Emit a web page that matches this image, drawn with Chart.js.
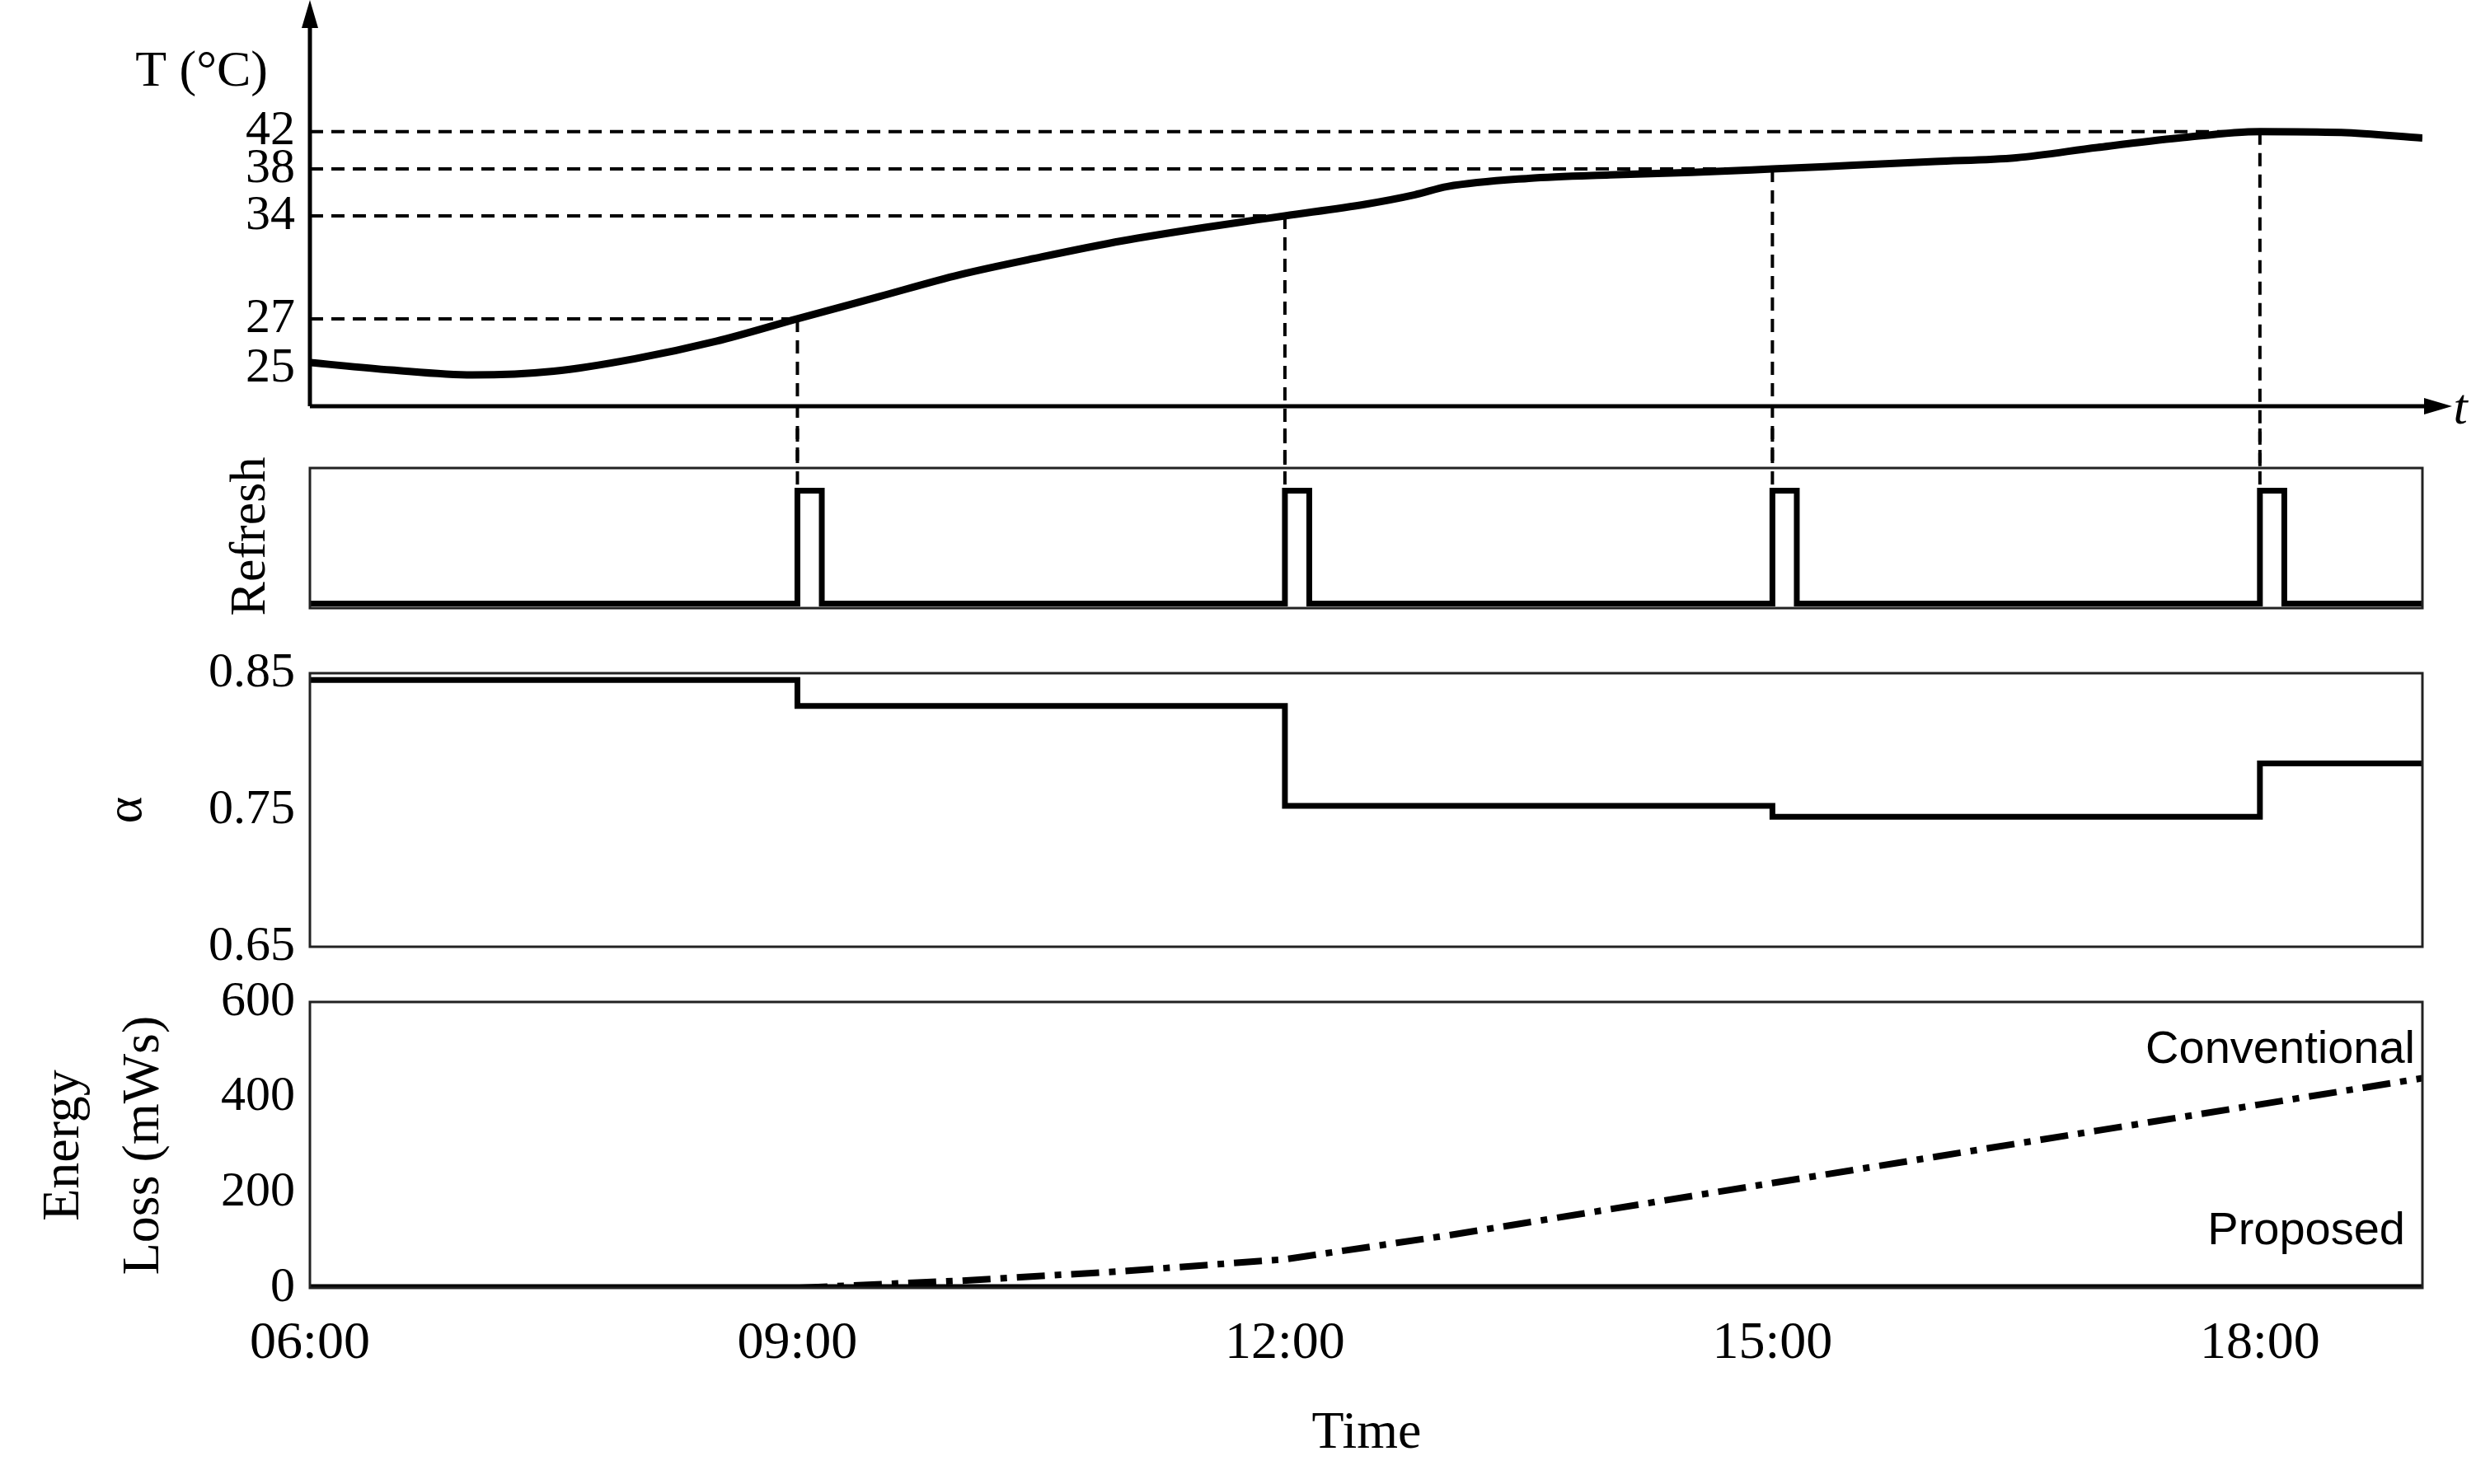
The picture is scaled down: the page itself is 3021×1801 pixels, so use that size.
<!DOCTYPE html>
<html>
<head>
<meta charset="utf-8">
<script src="https://cdn.jsdelivr.net/npm/chart.js@4"></script>
<style>
body{margin:0;background:#fff;width:3021px;height:1801px;position:relative;overflow:hidden;}
canvas{position:absolute;left:0;}
</style>
</head>
<body>
<canvas id="c1" style="top:0px"></canvas>
<canvas id="c2" style="top:520px"></canvas>
<canvas id="c3" style="top:771px"></canvas>
<canvas id="c4" style="top:1170px"></canvas>
<script>
//==========
// Data
const tempHours = [6, 6.5, 7, 7.5, 8, 8.5, 9, 9.5, 10, 10.5, 11, 11.5, 12, 12.5, 12.8, 13, 13.5, 14, 14.5, 15, 15.5, 16, 16.5, 17, 17.5, 18, 18.5, 19];
const tempValues = [25.25, 24.95, 24.75, 24.9, 25.4, 26.1, 27, 28.5, 30, 31.2, 32.3, 33.2, 34, 35, 35.8, 36.5, 37.2, 37.5, 37.7, 38, 38.4, 38.8, 39.2, 40.3, 41.3, 42, 41.9, 41.3];
const tempTicks = [25, 27, 34, 38, 42];
const tempTickPos = [24, 56, 122, 152, 176]; // schematic (non-linear) axis spacing of the ticks
const refreshTimes = [9, 12, 15, 18];
const refreshTemps = [27, 34, 38, 42];
const refreshHours = [6, 9, 9.15, 12, 12.15, 15, 15.15, 18, 18.15, 19];
const refreshValues = [0, 1, 0, 1, 0, 1, 0, 1, 0, 0];
const alphaHours = [6, 9, 12, 15, 18, 19];
const alphaValues = [0.845, 0.826, 0.753, 0.745, 0.784, 0.784];
const alphaTicks = [0.65, 0.75, 0.85];
const energyHours = [6, 9, 10, 11, 12, 13, 14, 15, 16, 17, 18, 19];
const conventionalLoss = [0, 0, 15, 35, 60, 110, 165, 220, 275, 330, 385, 440];
const proposedLoss = [0, 0, 0, 0, 0, 0, 0, 0, 0, 0, 0, 0];
const timeTicks = [6, 9, 12, 15, 18];

//==========
// Common
const SERIF = "'Liberation Serif', 'Times New Roman', serif";
const TICK_FONT = {family: SERIF, size: 60};
const W = 3021;

function pts(xs, ys){
	return xs.map((x, i)=>({x: x, y: ys[i]}));
}

// temperature -> position on the schematic axis (piecewise linear through the ticks)
function tempPos(t){
	const T = tempTicks, P = tempTickPos;
	if(t <= T[0]) return P[0] + (t - T[0]) * 16;
	for(let i=1; i<T.length; i++){
		if(t <= T[i]) return P[i-1] + (t - T[i-1]) * (P[i] - P[i-1]) / (T[i] - T[i-1]);
	}
	return P[P.length-1] + (t - T[T.length-1]) * 6;
}

function xScale(show){
	return {
		type: "linear", min: 6, max: 19, display: show,
		grid: {display: false}, border: {display: false},
		afterBuildTicks: s=>{ s.ticks = timeTicks.map(v=>({value: v})); },
		ticks: {color: "#000", font: {family: SERIF, size: 64}, padding: 22,
			callback: v=>String(v).padStart(2, "0") + ":00"},
		afterFit: s=>{ if(show) s.height = 238; }
	};
}

function yScale(min, max, ticks, fmt, show){
	return {
		type: "linear", min: min, max: max,
		grid: {display: false}, border: {display: false},
		afterBuildTicks: s=>{ s.ticks = ticks.map(v=>({value: v})); },
		ticks: {display: show !== false, color: "#000", font: TICK_FONT, padding: 10, callback: fmt || (v=>v)},
		afterFit: s=>{ s.width = 376; }
	};
}

function text(ctx, str, x, y, font, rot, align){
	ctx.save();
	ctx.translate(x, y);
	if(rot) ctx.rotate(rot);
	ctx.font = font;
	ctx.fillStyle = "#000";
	ctx.textAlign = align || "center";
	ctx.textBaseline = "middle";
	ctx.fillText(str, 0, 0);
	ctx.restore();
}

function boxPlugin(){
	return {id: "box", afterDraw(chart){
		const a = chart.chartArea, ctx = chart.ctx;
		ctx.save();
		ctx.strokeStyle = "#222";
		ctx.lineWidth = 3;
		ctx.strokeRect(a.left, a.top, a.right - a.left, a.bottom - a.top);
		ctx.restore();
	}};
}

function makeChart(id, h, datasets, scales, padding, plugins){
	const cv = document.getElementById(id);
	cv.width = W; cv.height = h;
	return new Chart(cv, {
		type: "line",
		data: {datasets: datasets},
		options: {
			responsive: false, animation: false, devicePixelRatio: 1,
			layout: {padding: padding},
			plugins: {legend: {display: false}, tooltip: {enabled: false}},
			elements: {point: {radius: 0}},
			scales: scales
		},
		plugins: plugins
	});
}

function dashed(ctx, x1, y1, x2, y2){
	ctx.save();
	ctx.strokeStyle = "#000";
	ctx.lineWidth = 4;
	ctx.setLineDash([16, 10]);
	ctx.beginPath(); ctx.moveTo(x1, y1); ctx.lineTo(x2, y2); ctx.stroke();
	ctx.restore();
}

//==========
// Temperature
makeChart("c1", 568, [{
	data: pts(tempHours, tempValues.map(tempPos)), borderColor: "#000", borderWidth: 9, tension: 0.4, cubicInterpolationMode: "monotone"
}], {x: xScale(false), y: yScale(0, 236, tempTickPos, (v, i)=>tempTicks[i])}, {top: 39, bottom: 75, left: 0, right: 82}, [{
	id: "axes", afterDraw(chart){
		const a = chart.chartArea, ctx = chart.ctx;
		const xs = chart.scales.x, ys = chart.scales.y;
		for(let i=0; i<refreshTimes.length; i++){
			const px = xs.getPixelForValue(refreshTimes[i]);
			const py = ys.getPixelForValue(tempPos(refreshTemps[i]));
			dashed(ctx, a.left, py, px, py);
			dashed(ctx, px, py, px, chart.height);
		}
		ctx.save();
		ctx.strokeStyle = "#000"; ctx.fillStyle = "#000"; ctx.lineWidth = 5;
		ctx.beginPath();
		ctx.moveTo(a.left, a.bottom); ctx.lineTo(a.left, 10);
		ctx.moveTo(a.left, a.bottom); ctx.lineTo(a.right + 20, a.bottom);
		ctx.stroke();
		ctx.beginPath();
		ctx.moveTo(a.left, 0); ctx.lineTo(a.left - 10, 34); ctx.lineTo(a.left + 10, 34); ctx.closePath();
		ctx.moveTo(a.right + 36, a.bottom); ctx.lineTo(a.right + 2, a.bottom - 10); ctx.lineTo(a.right + 2, a.bottom + 10); ctx.closePath();
		ctx.fill();
		ctx.restore();
		text(ctx, "T (°C)", 325, 88, "62px " + SERIF, 0, "right");
		text(ctx, "t", 2985, a.bottom + 5, "italic 62px " + SERIF);
	}
}]);

//==========
// Refresh
makeChart("c2", 260, [{
	data: pts(refreshHours, refreshValues), borderColor: "#000", borderWidth: 7, stepped: true
}], {x: xScale(false), y: yScale(-0.04, 1.2, [], null, false)},
{top: 48, bottom: 42, left: 0, right: 82}, [boxPlugin(), {
	id: "guides", afterDraw(chart){
		const ctx = chart.ctx, xs = chart.scales.x, ys = chart.scales.y;
		for(const t of refreshTimes){
			const px = xs.getPixelForValue(t);
			dashed(ctx, px, 0, px, ys.getPixelForValue(1));
		}
		text(ctx, "Refresh", 305, 131, "62px " + SERIF, -Math.PI / 2);
	}
}]);

//==========
// Alpha
makeChart("c3", 424, [{
	data: pts(alphaHours, alphaValues), borderColor: "#000", borderWidth: 7, stepped: true
}], {x: xScale(false), y: yScale(0.65, 0.85, alphaTicks, v=>v.toFixed(2))},
{top: 44, bottom: 30, left: 0, right: 82}, [boxPlugin(), {
	id: "label", afterDraw(chart){
		text(chart.ctx, "α", 155, 212, "62px " + SERIF, -Math.PI / 2);
	}
}]);

//==========
// Energy loss
makeChart("c4", 631, [{
	data: pts(energyHours, proposedLoss), borderColor: "#000", borderWidth: 9
}, {
	data: pts(energyHours, conventionalLoss), borderColor: "#000", borderWidth: 8, borderDash: [34, 12, 8, 12]
}], {x: xScale(true), y: yScale(0, 600, [0, 200, 400, 600])},
{top: 29, bottom: 0, left: 0, right: 82}, [boxPlugin(), {
	id: "labels", afterDraw(chart){
		const ctx = chart.ctx;
		const narrow = "56px 'Liberation Sans Narrow', 'Liberation Sans', sans-serif";
		text(ctx, "Conventional", 2930, 105, narrow, 0, "right");
		text(ctx, "Proposed", 2918, 325, narrow, 0, "right");
		text(ctx, "Energy", 78, 220, "64px " + SERIF, -Math.PI / 2);
		text(ctx, "Loss (mWs)", 175, 220, "64px " + SERIF, -Math.PI / 2);
		text(ctx, "Time", 1658, 570, "64px " + SERIF);
	}
}]);
</script>
</body>
</html>
